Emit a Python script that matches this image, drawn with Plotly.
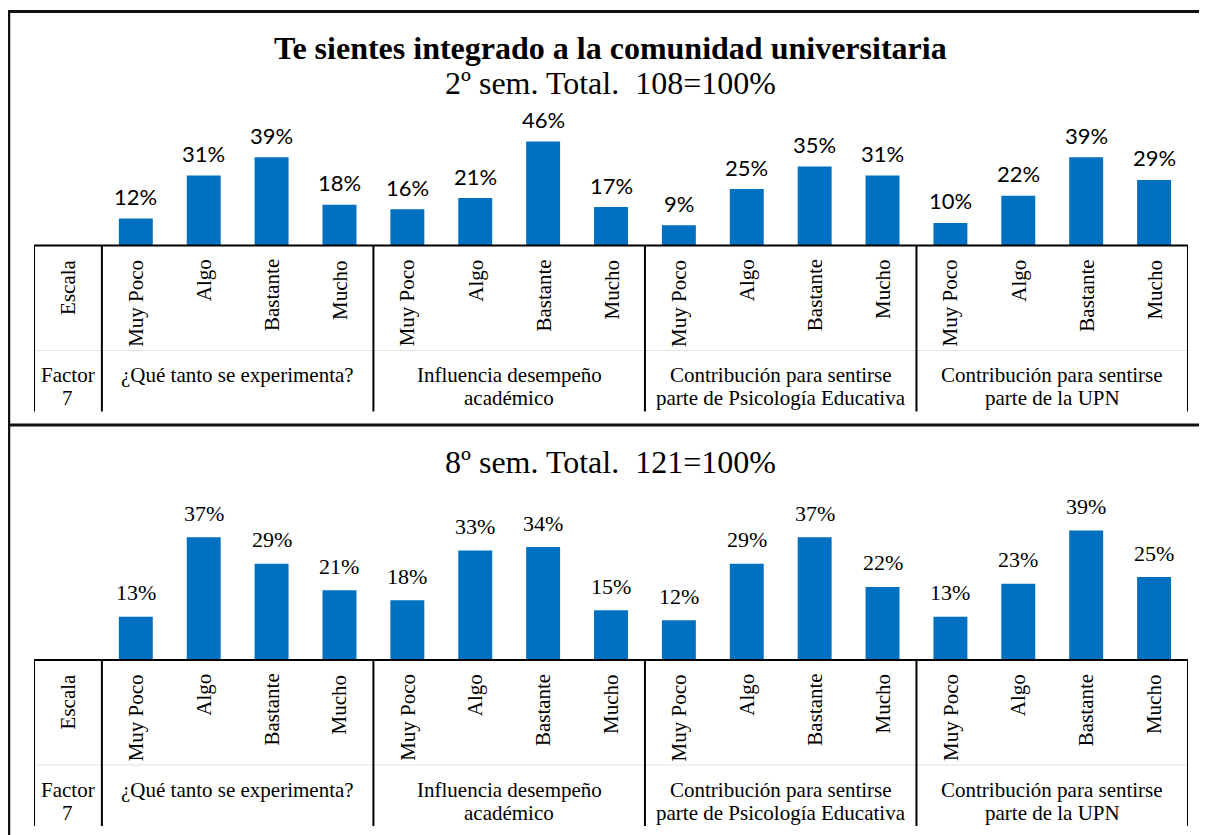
import plotly.graph_objects as go

# The page adds an 8px body margin; pixel positions below are given in the
# reference's screen coordinates and shifted by that margin.
OFF = 8
W, H = 1207, 835

title = "Te sientes integrado a la comunidad universitaria"
subtitles = ["2º sem. Total.  108=100%", "8º sem. Total.  121=100%"]
scale_labels = ["Muy Poco", "Algo", "Bastante", "Mucho"]
group_labels = [
    ["¿Qué tanto se experimenta?"],
    ["Influencia desempeño", "académico"],
    ["Contribución para sentirse", "parte de Psicología Educativa"],
    ["Contribución para sentirse", "parte de la UPN"],
]
values_2 = [12, 31, 39, 18, 16, 21, 46, 17, 9, 25, 35, 31, 10, 22, 39, 29]
values_8 = [13, 37, 29, 21, 18, 33, 34, 15, 12, 29, 37, 22, 13, 23, 39, 25]

BLUE = "#0070C0"
SERIF = "Liberation Serif, Times New Roman, serif"
SANS = "Lato, Carlito, Calibri, sans-serif"


def X(px):
    return (px - OFF) / W


def Y(py):
    return 1 - (py - OFF) / H


xs = [i + 1 for i in range(len(values_2))]
cats = [scale_labels[i % 4] for i in range(len(values_2))]

fig = go.Figure()
fig.add_trace(go.Bar(x=xs, y=values_2, marker=dict(color=BLUE, line=dict(width=0)),
                     width=0.5, xaxis="x", yaxis="y", hoverinfo="x+y", showlegend=False))
fig.add_trace(go.Bar(x=xs, y=values_8, marker=dict(color=BLUE, line=dict(width=0)),
                     width=0.5, xaxis="x2", yaxis="y2", hoverinfo="x+y", showlegend=False))

panels = [
    dict(base=245.5, ppu=2.26, ymax=50, xa="x", ya="y", vals=values_2, font=SANS, fsize=22, shift=22,
         sub_y=82.5),
    dict(base=660.0, ppu=3.32, ymax=45, xa="x2", ya="y2", vals=values_8, font=SERIF, fsize=22, shift=24,
         sub_y=462),
]

xdom = [X(34), X(1188)]
layout_axes = {}
annotations = []
shapes = []

for k, p in enumerate(panels):
    suffix = "" if k == 0 else "2"
    layout_axes["xaxis" + suffix] = dict(domain=xdom, range=[-0.5, 16.5], visible=False,
                                         anchor="y" + suffix, fixedrange=True)
    layout_axes["yaxis" + suffix] = dict(domain=[Y(p["base"]), Y(p["base"] - p["ymax"] * p["ppu"])],
                                         range=[0, p["ymax"]], visible=False,
                                         anchor="x" + suffix, fixedrange=True)
    for x, v in zip(xs, p["vals"]):
        annotations.append(dict(x=x, y=v, xref=p["xa"], yref=p["ya"], text=f"{v}%",
                                showarrow=False, yanchor="middle", yshift=p["shift"],
                                font=dict(family=p["font"], size=p["fsize"], color="#000")))
    annotations.append(dict(x=X(610), y=Y(p["sub_y"]), xref="paper", yref="paper", text=subtitles[k],
                            showarrow=False, xanchor="center", yanchor="middle",
                            font=dict(family=SERIF, size=32, color="#000")))
    base = p["base"]
    top_lab = base + 12
    line1 = base + 129.5
    line2 = base + 152.5
    tbl_bot = base + 166
    annotations.append(dict(x=0, y=Y(top_lab), xref=p["xa"], yref="paper", text="Escala",
                            showarrow=False, textangle=-90, xanchor="center", yanchor="top",
                            font=dict(family=SERIF, size=21, color="#000")))
    for x, c in zip(xs, cats):
        annotations.append(dict(x=x, y=Y(top_lab), xref=p["xa"], yref="paper", text=c,
                                showarrow=False, textangle=-90, xanchor="center", yanchor="top",
                                font=dict(family=SERIF, size=21, color="#000")))
    annotations.append(dict(x=0, y=Y(line1), xref=p["xa"], yref="paper", text="Factor",
                            showarrow=False, xanchor="center", yanchor="middle",
                            font=dict(family=SERIF, size=21, color="#000")))
    annotations.append(dict(x=0, y=Y(line2), xref=p["xa"], yref="paper", text="7",
                            showarrow=False, xanchor="center", yanchor="middle",
                            font=dict(family=SERIF, size=21, color="#000")))
    for g, lines in enumerate(group_labels):
        for li, t in enumerate(lines):
            annotations.append(dict(x=2.5 + 4 * g, y=Y(line1 if li == 0 else line2), xref=p["xa"],
                                    yref="paper", text=t, showarrow=False, xanchor="center",
                                    yanchor="middle", font=dict(family=SERIF, size=21, color="#000")))
    shapes.append(dict(type="line", xref=p["xa"], yref="paper", x0=-0.5, x1=16.5,
                       y0=Y(base + 105), y1=Y(base + 105), line=dict(color="#e2e2e2", width=1)))
    shapes.append(dict(type="line", xref=p["xa"], yref="paper", x0=-0.5, x1=16.5,
                       y0=Y(base), y1=Y(base), line=dict(color="#000", width=2)))
    for xv in [-0.5, 0.5, 4.5, 8.5, 12.5, 16.5]:
        shapes.append(dict(type="line", xref=p["xa"], yref="paper", x0=xv, x1=xv,
                           y0=Y(base), y1=Y(tbl_bot), line=dict(color="#000", width=2)))

annotations.append(dict(x=X(610), y=Y(48), xref="paper", yref="paper", text="<b>" + title + "</b>",
                        showarrow=False, xanchor="center", yanchor="middle",
                        font=dict(family=SERIF, size=32, color="#000")))

# outer frame
shapes.append(dict(type="line", xref="paper", yref="paper", x0=0, x1=1, y0=Y(11.5), y1=Y(11.5),
                   line=dict(color="#111", width=3)))
shapes.append(dict(type="line", xref="paper", yref="paper", x0=X(9), x1=X(9), y0=Y(10), y1=0,
                   line=dict(color="#111", width=2.5)))
shapes.append(dict(type="line", xref="paper", yref="paper", x0=0, x1=1, y0=Y(425), y1=Y(425),
                   line=dict(color="#111", width=3)))

fig.update_layout(
    width=W, height=H,
    margin=dict(l=0, r=0, t=0, b=0),
    paper_bgcolor="white", plot_bgcolor="white",
    bargap=0.5,
    showlegend=False,
    annotations=annotations,
    shapes=shapes,
    **layout_axes,
)

fig.write_html("out.html")
